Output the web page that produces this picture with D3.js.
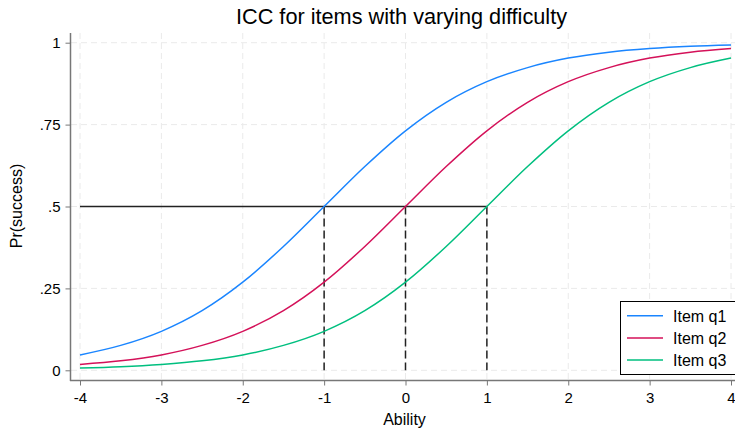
<!DOCTYPE html>
<html><head><meta charset="utf-8">
<script src="https://cdn.jsdelivr.net/npm/d3@7"></script>
<style>body{margin:0;background:#fff}svg{display:block}text{font-family:"Liberation Sans",Arial,sans-serif;fill:#000}</style>
</head><body>
<script>
// Data (ability grid in steps of 0.5)
const ability = [-4,-3.5,-3,-2.5,-2,-1.5,-1,-0.5,0,0.5,1,1.5,2,2.5,3,3.5,4];
const q1 = [0.047,0.076,0.119,0.182,0.269,0.378,0.5,0.622,0.731,0.818,0.881,0.924,0.953,0.971,0.982,0.989,0.993];
const q2 = [0.018,0.029,0.047,0.076,0.119,0.182,0.269,0.378,0.5,0.622,0.731,0.818,0.881,0.924,0.953,0.971,0.982];
const q3 = [0.007,0.011,0.018,0.029,0.047,0.076,0.119,0.182,0.269,0.378,0.5,0.622,0.731,0.818,0.881,0.924,0.953];
const seriesNames = ["Item q1","Item q2","Item q3"];
const seriesColors = ["#1a85ff","#d41159","#00bf7f"];
const difficulties = [-1,0,1];
const xTicks = [-4,-3,-2,-1,0,1,2,3,4];
const xTickLabels = ["-4","-3","-2","-1","0","1","2","3","4"];
const yTicks = [0,0.25,0.5,0.75,1];
const yTickLabels = ["0",".25",".5",".75","1"];

const W=735,H=428;
const svg=d3.select("body").append("svg").attr("width",W).attr("height",H);
const x=d3.scaleLinear().domain([-4,4]).range([80,731]);
const y=d3.scaleLinear().domain([0,1]).range([370.3,42.7]);

// grid
const g=svg.append("g");
g.selectAll(".gx").data(xTicks).join("line").attr("x1",d=>x(d)).attr("x2",d=>x(d)).attr("y1",33).attr("y2",380)
 .attr("stroke","#eaeaea").attr("stroke-width",1).attr("stroke-dasharray","6,4");
g.selectAll(".gy").data(yTicks).join("line").attr("y1",d=>y(d)).attr("y2",d=>y(d)).attr("x1",71).attr("x2",735)
 .attr("stroke","#eaeaea").attr("stroke-width",1).attr("stroke-dasharray","6,4");

// axes
const xAxis=svg.append("g").attr("transform","translate(0,380.5)")
 .call(d3.axisBottom(x).tickValues(xTicks).tickSize(5).tickFormat((d,i)=>xTickLabels[i]));
const yAxis=svg.append("g").attr("transform","translate(70.5,0)")
 .call(d3.axisLeft(y).tickValues(yTicks).tickSize(5).tickPadding(5).tickFormat((d,i)=>yTickLabels[i]));
[xAxis,yAxis].forEach(a=>{
  a.selectAll("text").style("font-size","15px").style("font-family","Liberation Sans, Arial, sans-serif").attr("fill","#000");
  a.selectAll("line").attr("stroke","#777");
});
xAxis.selectAll("text").attr("y",22).attr("dy","0");
xAxis.select(".domain").attr("d","M70,0H735").attr("stroke","#777").attr("stroke-width",1.5);
yAxis.select(".domain").attr("d","M0,33V381").attr("stroke","#777").attr("stroke-width",1.5);

// reference lines
svg.append("line").attr("x1",x(-4)).attr("x2",x(1)).attr("y1",y(0.5)).attr("y2",y(0.5))
 .attr("stroke","#222").attr("stroke-width",1.3);
svg.selectAll(".vref").data(difficulties).join("line")
 .attr("x1",d=>x(d)).attr("x2",d=>x(d)).attr("y1",y(0.5)).attr("y2",y(0))
 .attr("stroke","#222").attr("stroke-width",1.5).attr("stroke-dasharray","8,4");

// curves
const series=[q1,q2,q3];
const line=d3.line().x((d,i)=>x(ability[i])).y(d=>y(d)).curve(d3.curveMonotoneX);
svg.selectAll(".curve").data(series).join("path").attr("d",d=>line(d))
 .attr("fill","none").attr("stroke",(d,i)=>seriesColors[i]).attr("stroke-width",1.5);

// titles
svg.append("text").attr("x",401.5).attr("y",23.5).attr("text-anchor","middle").style("font-size","21.7px").text("ICC for items with varying difficulty");
svg.append("text").attr("x",404.5).attr("y",424.5).attr("text-anchor","middle").style("font-size","16px").text("Ability");
svg.append("text").attr("transform","translate(22,206) rotate(-90)").attr("text-anchor","middle").style("font-size","16px").text("Pr(success)");

// legend
const lg=svg.append("g");
lg.append("rect").attr("x",620.5).attr("y",301.5).attr("width",118).attr("height",73).attr("fill","#fff").attr("stroke","#000").attr("stroke-width",1);
seriesNames.forEach((n,i)=>{
  const yy=315.8+i*22.1;
  lg.append("line").attr("x1",627).attr("x2",663).attr("y1",yy).attr("y2",yy).attr("stroke",seriesColors[i]).attr("stroke-width",1.5);
  lg.append("text").attr("x",673).attr("y",yy+5.7).style("font-size","16px").text(n);
});
</script>
</body></html>
